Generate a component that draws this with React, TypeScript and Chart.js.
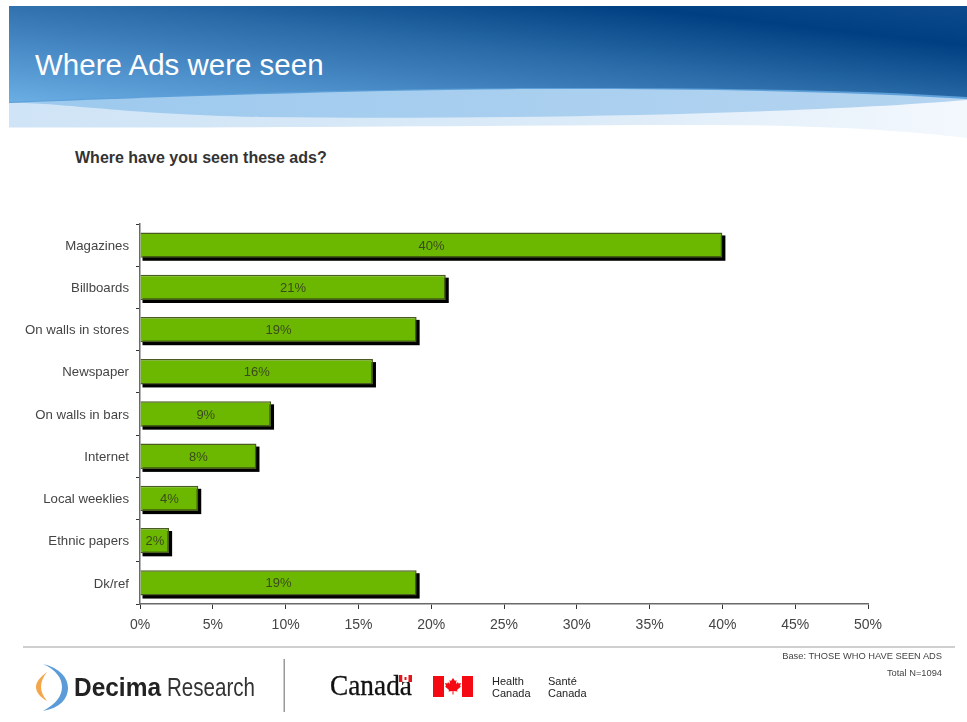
import React, { useEffect, useRef } from "react";
import { Chart, registerables } from "chart.js";

Chart.register(...registerables);

const categories = [
  "Magazines",
  "Billboards",
  "On walls in stores",
  "Newspaper",
  "On walls in bars",
  "Internet",
  "Local weeklies",
  "Ethnic papers",
  "Dk/ref",
];
const shares = [40, 21, 19, 16, 9, 8, 4, 2, 19];
const axisMax = 50;
const axisStep = 5;

const FONT = "'Liberation Sans', Arial, sans-serif";
const AXIS_COLOR = "#6a6a6a";
const SHADOW_OFFSET = 3;

// Hard black drop shadow behind every bar, taken from the bar elements.
const barShadow = {
  id: "barShadow",
  beforeDatasetDraw(chart: any) {
    const { ctx } = chart;
    const meta = chart.getDatasetMeta(0);
    ctx.save();
    ctx.fillStyle = "#000";
    meta.data.forEach((bar: any) => {
      const { x, base, y, height } = bar.getProps(["x", "base", "y", "height"], true);
      ctx.fillRect(
        base + SHADOW_OFFSET - 1,
        y - height / 2 + SHADOW_OFFSET,
        x - base + 1,
        height
      );
    });
    ctx.restore();
  },
};

// Percentage label centred inside each bar.
const barValues = {
  id: "barValues",
  afterDatasetsDraw(chart: any) {
    const { ctx } = chart;
    const meta = chart.getDatasetMeta(0);
    ctx.save();
    ctx.font = `13px ${FONT}`;
    ctx.fillStyle = "#3b4a1c";
    ctx.textAlign = "center";
    ctx.textBaseline = "middle";
    meta.data.forEach((bar: any, i: number) => {
      const { x, base, y } = bar.getProps(["x", "base", "y"], true);
      ctx.fillText(`${shares[i]}%`, (x + base) / 2, y + 1);
    });
    ctx.restore();
  },
};

function SlideHeader() {
  return (
    <svg
      width={967}
      height={145}
      style={{ position: "absolute", left: 0, top: 0 }}
    >
      <defs>
        <linearGradient id="sky" x1="0" y1="1" x2="1" y2="0">
          <stop offset="0.03" stopColor="#6fb3e8" />
          <stop offset="0.3" stopColor="#4b8dc8" />
          <stop offset="0.55" stopColor="#2a6ba8" />
          <stop offset="0.82" stopColor="#004082" />
          <stop offset="1" stopColor="#0c4a8c" />
        </linearGradient>
        <linearGradient id="paleWave" x1="0" y1="0" x2="1" y2="0">
          <stop offset="0" stopColor="#cfe4f6" />
          <stop offset="0.6" stopColor="#dcebf8" />
          <stop offset="1" stopColor="#f3f8fd" />
        </linearGradient>
        <linearGradient id="midWave" x1="0" y1="0" x2="1" y2="0">
          <stop offset="0" stopColor="#9cc9ee" />
          <stop offset="1" stopColor="#b4d4f0" />
        </linearGradient>
      </defs>
      <rect x={9} y={6} width={958} height={110} fill="url(#sky)" />
      <path
        d="M9 102 C 180 94, 400 88, 560 88 C 720 88, 860 90, 967 97 L967 145 L9 145 Z"
        fill="#5d9fd8"
      />
      <path
        d="M9 103 C 180 96, 400 89, 560 89 C 720 89, 860 92, 967 99 L967 145 L9 145 Z"
        fill="url(#midWave)"
      />
      <path
        d="M9 103 C 60 102, 120 114, 260 117 C 500 120, 800 114, 967 100 L967 145 L9 145 Z"
        fill="url(#paleWave)"
      />
      <path
        d="M9 127.500 C 300 128, 500 125, 700 125 C 820 125, 900 130, 967 138 L967 145 L9 145 Z"
        fill="#fff"
      />
      <text x={35} y={75} fontFamily={FONT} fontSize={29.500} fill="#fff">
        Where Ads were seen
      </text>
    </svg>
  );
}

function SlideFooter() {
  return (
    <svg
      width={967}
      height={90}
      viewBox="0 632 967 90"
      style={{ position: "absolute", left: 0, top: 632 }}
    >
      <rect x={23} y={646} width={932} height={2} fill="#cfcfcf" />
      <text x={942} y={659} textAnchor="end" fontFamily={FONT} fontSize={9.300} fill="#444">
        Base: THOSE WHO HAVE SEEN ADS
      </text>
      <text x={942} y={676} textAnchor="end" fontFamily={FONT} fontSize={9.300} fill="#444">
        Total N=1094
      </text>

      {/* Decima mark */}
      <path d="M43 664 C 60 668, 68 678, 68 688 C 68 699, 60 708, 43 711 C 56 704, 62 696, 62 687 C 62 678, 56 670, 43 664 Z" fill="#5b9bd8" />
      <path d="M47 672 C 40 677, 36 682, 36 687 C 36 692, 40 697, 47 701 C 43 696, 41 691, 41 687 C 41 682, 43 677, 47 672 Z" fill="#f4a64a" />
      <text x={74} y={696} fontFamily={FONT} fontSize={26} fontWeight="bold" fill="#222" textLength={87} lengthAdjust="spacingAndGlyphs">
        Decima
      </text>
      <text x={167} y={696} fontFamily={FONT} fontSize={26} fill="#333" textLength={88} lengthAdjust="spacingAndGlyphs">
        Research
      </text>
      <rect x={283.500} y={659} width={1.500} height={53} fill="#999" />

      {/* Canada wordmark */}
      <text x={330} y={695} fontFamily="'Liberation Serif', serif" fontSize={30} fill="#111" stroke="#111" strokeWidth={0.3} textLength={82} lengthAdjust="spacingAndGlyphs">
        Canada
      </text>
      <rect x={399} y={675} width={3.500} height={7} fill="#e8141c" />
      <rect x={402.500} y={675} width={6} height={7} fill="#fff" />
      <rect x={408.500} y={675} width={3.500} height={7} fill="#e8141c" />
      <rect x={404.500} y={677} width={2} height={3} fill="#e8141c" />

      {/* Flag */}
      <rect x={433} y={676} width={40} height={21} fill="#fff" />
      <rect x={433} y={676} width={11} height={21} fill="#f50a14" />
      <rect x={462} y={676} width={11} height={21} fill="#f50a14" />
      <path
        d="M453 678 l2 3 1.500 -1 -0.500 4 2 -2 0.500 1.500 2.500 -0.500 -1 3 1 0.500 -4 3.500 0.500 1.500 -4 -0.500 0 3.500 -1 0 0 -3.500 -4 0.500 0.500 -1.500 -4 -3.500 1 -0.500 -1 -3 2.500 0.500 0.500 -1.500 2 2 -0.500 -4 1.500 1 Z"
        fill="#f50a14"
      />

      <text fontFamily={FONT} fontSize={11} fill="#222">
        <tspan x={492} y={685}>Health</tspan>
        <tspan x={492} y={697}>Canada</tspan>
        <tspan x={548} y={685}>Santé</tspan>
        <tspan x={548} y={697}>Canada</tspan>
      </text>
    </svg>
  );
}

export default function App() {
  const canvasRef = useRef<HTMLCanvasElement>(null);

  useEffect(() => {
    document.body.style.margin = "0";
    const chart = new Chart(canvasRef.current!, {
      type: "bar",
      data: {
        labels: categories,
        datasets: [
          {
            data: shares,
            backgroundColor: "#6cb800",
            borderColor: "#4a5c22",
            borderWidth: 1.5,
            barPercentage: 0.6,
            categoryPercentage: 1,
          },
        ],
      },
      plugins: [barShadow, barValues],
      options: {
        indexAxis: "y",
        responsive: false,
        animation: false,
        layout: { padding: { top: 224, right: 99, left: 0, bottom: 0 } },
        plugins: {
          legend: { display: false },
          title: { display: false },
          tooltip: { enabled: false },
        },
        scales: {
          x: {
            min: 0,
            max: axisMax,
            afterFit(axis: any) {
              axis.height = 118;
            },
            ticks: {
              stepSize: axisStep,
              callback: (v: any) => `${v}%`,
              color: "#444",
              font: { family: FONT, size: 14 },
              padding: 8,
              maxRotation: 0,
            },
            grid: {
              drawOnChartArea: false,
              drawTicks: true,
              tickLength: 5,
              color: "#333",
            },
            border: { color: AXIS_COLOR, width: 1.5 },
          },
          y: {
            afterFit(axis: any) {
              axis.width = 140;
            },
            ticks: {
              color: "#444",
              font: { family: FONT, size: 13.200 },
              padding: 7,
              labelOffset: 1,
            },
            grid: {
              drawOnChartArea: false,
              drawTicks: true,
              tickLength: 4,
              color: "#333",
            },
            border: { color: AXIS_COLOR, width: 1.5 },
          },
        },
      },
    });
    return () => chart.destroy();
  }, []);

  return (
    <div
      style={{
        position: "relative",
        width: 967,
        height: 722,
        background: "#fff",
        overflow: "hidden",
      }}
    >
      <SlideHeader />
      <div
        style={{
          position: "absolute",
          left: 75,
          top: 149,
          font: `bold 16px ${FONT}`,
          color: "#333",
        }}
      >
        Where have you seen these ads?
      </div>
      <canvas
        ref={canvasRef}
        width={967}
        height={722}
        style={{ position: "absolute", left: 0, top: 0 }}
      />
      <SlideFooter />
    </div>
  );
}
